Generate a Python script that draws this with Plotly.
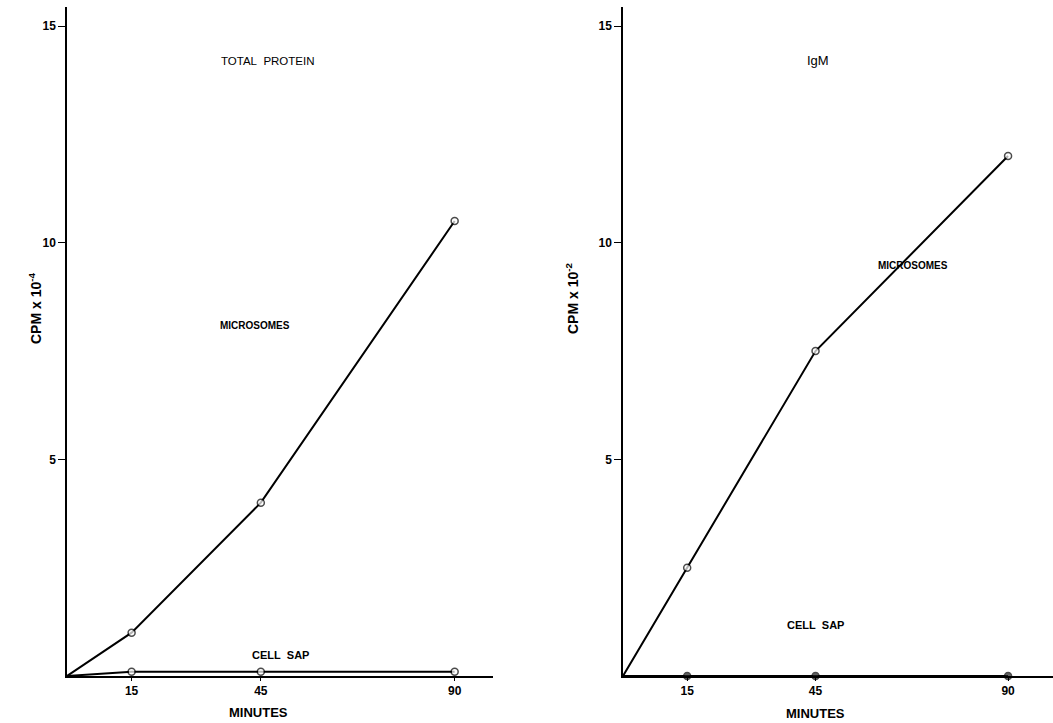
import plotly.graph_objects as go

# ---- data ----
minutes = [0, 15, 45, 90]
tp_microsomes = [0, 1.0, 4.0, 10.5]
tp_cell_sap = [0, 0.1, 0.1, 0.1]
igm_microsomes = [0, 2.5, 7.5, 12.0]
igm_cell_sap = [0, 0, 0, 0]
x_ticks = [15, 45, 90]
y_ticks = [5, 10, 15]

FONT = "Liberation Sans, Arial, sans-serif"
W, H = 1053, 723

fig = go.Figure()

msize = [0, 7, 7, 7]

def add_series(x, y, xa, ya, fill):
    fig.add_trace(go.Scatter(
        x=x, y=y, mode="lines+markers", xaxis=xa, yaxis=ya,
        line=dict(color="black", width=2),
        marker=dict(size=msize, color=fill, line=dict(color="black", width=1.5)),
        showlegend=False, cliponaxis=False, hoverinfo="skip"))

add_series(minutes, tp_microsomes, "x", "y", "white")
add_series(minutes, tp_cell_sap, "x", "y", "white")
add_series(minutes, igm_microsomes, "x2", "y2", "white")
add_series(minutes, igm_cell_sap, "x2", "y2", "#222")

left_dom = [67 / W, 493 / W]
right_dom = [623 / W, 1.0]
ydom = [(H - 676) / H, (H - 7) / H]

axis_common = dict(showline=True, linecolor="black", linewidth=1.5, showgrid=False,
                   zeroline=False,
                   tickfont=dict(family=FONT, size=12, color="black", weight="bold"))

fig.update_layout(
    width=W, height=H, margin=dict(l=0, r=0, t=0, b=0),
    paper_bgcolor="white", plot_bgcolor="white",
    xaxis=dict(domain=left_dom, range=[0, 98.9], tickvals=x_ticks, ticks="outside",
               ticklen=3, tickcolor="black", anchor="y", **axis_common),
    yaxis=dict(domain=ydom, range=[0, 15.44], tickvals=y_ticks, ticks="outside",
               ticklen=7, tickcolor="black", anchor="x", **axis_common),
    xaxis2=dict(domain=right_dom, range=[0, 100.5], tickvals=x_ticks, ticks="outside",
                ticklen=3, tickcolor="black", anchor="y2", **axis_common),
    yaxis2=dict(domain=ydom, range=[0, 15.44], tickvals=y_ticks, ticks="outside",
                ticklen=7, tickcolor="black", anchor="x2", **axis_common),
)

def ann(text, x, y, xref, yref, size=11, angle=0, bold=True):
    fig.add_annotation(text=text, x=x, y=y, xref=xref, yref=yref, showarrow=False,
                       xanchor="center", yanchor="middle", textangle=angle,
                       font=dict(family=FONT, size=size, color="black",
                                 weight="bold" if bold else "normal"))

ann("TOTAL&nbsp;&nbsp;PROTEIN", 46.7, 14.2, "x", "y", size=11.5, bold=False)
ann("MICROSOMES", 43.6, 8.1, "x", "y", size=10)
ann("CELL&nbsp;&nbsp;SAP", 49.5, 0.48, "x", "y", size=11)
ann("IgM", 45.6, 14.2, "x2", "y2", size=13, bold=False)
ann("MICROSOMES", 67.8, 9.47, "x2", "y2", size=10)
ann("CELL&nbsp;&nbsp;SAP", 44.9, 1.18, "x2", "y2", size=11)

ann("MINUTES", 258 / W, 1 - 712 / H, "paper", "paper", size=13)
ann("MINUTES", 815 / W, 1 - 713 / H, "paper", "paper", size=13)
ann("CPM x 10<sup>-4</sup>", 35 / W, 1 - 308 / H, "paper", "paper", size=14, angle=-90)
ann("CPM x 10<sup>-2</sup>", 572 / W, 1 - 298 / H, "paper", "paper", size=14, angle=-90)

fig.write_html("out.html")
